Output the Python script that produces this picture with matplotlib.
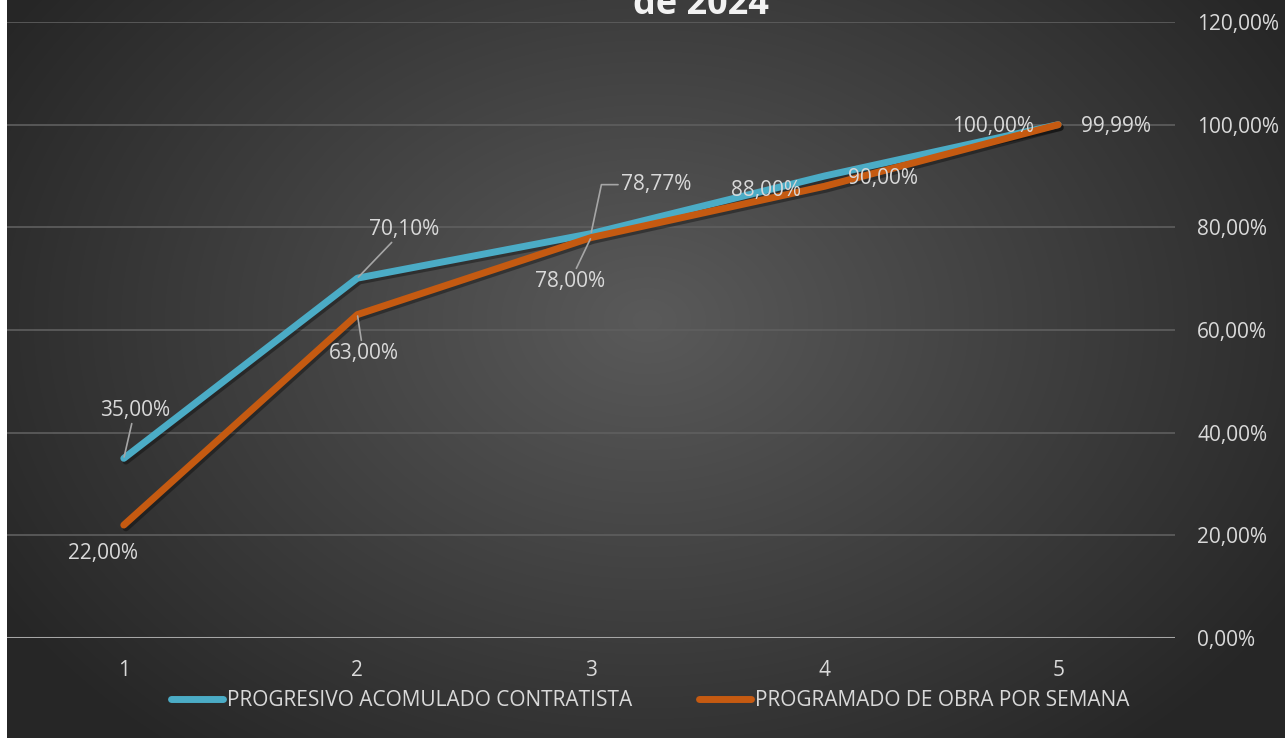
import numpy as np
import matplotlib.pyplot as plt
import matplotlib.patheffects as pe

# data
semanas = [1, 2, 3, 4, 5]
progresivo = [35.00, 70.10, 78.77, 90.00, 100.00]
programado = [22.00, 63.00, 78.00, 88.00, 99.99]
y_ticks = [0, 20, 40, 60, 80, 100, 120]

nombre_prog = "PROGRESIVO ACOMULADO CONTRATISTA"
nombre_plan = "PROGRAMADO DE OBRA POR SEMANA"

COL_CYAN = "#4bacc6"
COL_ORANGE = "#c55a11"
TXT = "#d9d9d9"
FONT = ["Open Sans", "DejaVu Sans"]
FS = 15

W, H = 1285, 738
plt.rcParams['font.family'] = FONT

fig = plt.figure(figsize=(W / 100, H / 100), dpi=100)
fig.patch.set_facecolor("white")

# background radial gradient (dark chart style)
bg = fig.add_axes([7 / W, 0, 1 - 7 / W, 1], zorder=-10)
yy, xx = np.mgrid[0:H, 0:W - 7]
r = np.sqrt(((xx - 640) / 760.0) ** 2 + ((yy - 320) / 560.0) ** 2)
r = np.clip(r, 0, 1)
c0, c1 = 0x5a / 255, 0x26 / 255
img = c0 + (c1 - c0) * r
bg.imshow(np.dstack([img, img, img]), aspect="auto", interpolation="bilinear")
bg.axis("off")

ax = fig.add_axes([7 / W, 100 / H, 1168 / W, 616 / H])
ax.set_facecolor("none")

shadow = [pe.SimpleLineShadow(offset=(1.5, -2), alpha=0.35, shadow_color="black"), pe.Normal()]
ax.plot(semanas, progresivo, color=COL_CYAN, lw=5, solid_capstyle="round",
        solid_joinstyle="round", label=nombre_prog, zorder=3, path_effects=shadow)
ax.plot(semanas, programado, color=COL_ORANGE, lw=5, solid_capstyle="round",
        solid_joinstyle="round", label=nombre_plan, zorder=4, path_effects=shadow)

ax.set_xlim(0.5, 5.5)
ax.set_ylim(0, 120)
ax.set_yticks(y_ticks)
ax.set_yticklabels([f"{v:.2f}".replace(".", ",") + "%" for v in y_ticks])
ax.set_xticks(semanas)
ax.yaxis.tick_right()
ax.tick_params(axis="y", length=0, pad=16, labelsize=FS, labelcolor=TXT)
ax.tick_params(axis="x", length=0, pad=16, labelsize=FS, labelcolor=TXT)
for s in ax.spines.values():
    s.set_visible(False)
for v in y_ticks[1:]:
    ax.axhline(v, color="#5f5f5f", lw=1.2, zorder=1)
ax.axhline(0, color="#a6a6a6", lw=2.2, zorder=2)


def fmt(v):
    return f"{v:.2f}".replace(".", ",") + "%"


# label offsets in pixels (dx, dy), leader style
off_prog = [(11, 48, "line"), (47, 49, "line"), (65, 49, "elbow"), (58, -2, None), (-65, -2, None)]
off_plan = [(-21, -28, None), (6, -39, "line"), (-21, -44, "line"), (-59, -4, None), (58, -2, None)]

for xs, ys, offs in [(semanas, progresivo, off_prog), (semanas, programado, off_plan)]:
    for x, y, (dx, dy, lead) in zip(xs, ys, offs):
        props = None
        if lead == "line":
            props = dict(arrowstyle="-", color="#a6a6a6", lw=1.2, shrinkA=0, shrinkB=1)
        elif lead == "elbow":
            props = dict(arrowstyle="-", color="#a6a6a6", lw=1.2, shrinkA=0, shrinkB=1,
                         relpos=(0, 0.5), connectionstyle="angle,angleA=0,angleB=78,rad=0")
        ax.annotate(fmt(y), (x, y), xytext=(dx, dy), textcoords="offset pixels",
                    ha="center", va="center", fontsize=FS, color=TXT,
                    arrowprops=props, zorder=6)

fig.text(701 / W, 1 - 14 / H, "de 2024", ha="center", va="baseline",
         fontsize=26, fontweight="bold", color="#f2f2f2")

leg = fig.legend(loc="center", bbox_to_anchor=(650 / W, 1 - 701 / H), ncol=2,
                 frameon=False, fontsize=FS, handlelength=2.5, handletextpad=0.2,
                 columnspacing=3.2)
for t in leg.get_texts():
    t.set_color(TXT)
for l in leg.get_lines():
    l.set_solid_capstyle("round")
    l.set_path_effects([])

fig.savefig("out.png", dpi=100)
